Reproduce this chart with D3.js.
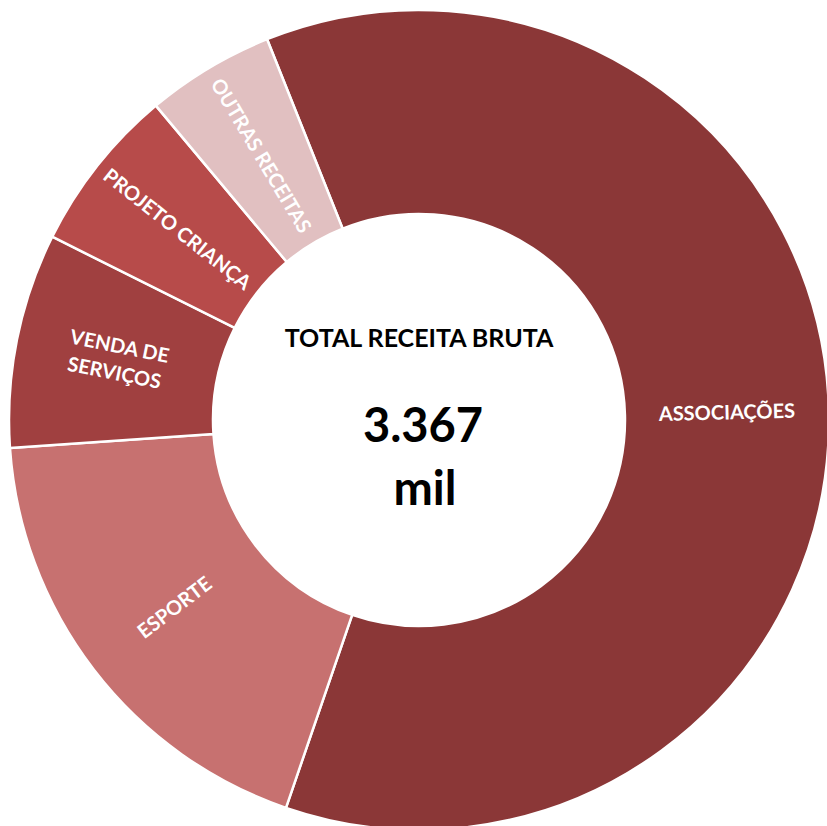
<!DOCTYPE html>
<html>
<head>
<meta charset="utf-8">
<script src="https://cdn.jsdelivr.net/npm/d3@7"></script>
<style>
  html, body { margin: 0; padding: 0; background: #fff; }
  svg { display: block; }
  text { font-family: Lato, "Open Sans", sans-serif; font-weight: bold; }
</style>
</head>
<body>
<svg id="chart" width="827" height="826"></svg>
<script>
const categories = ["ASSOCIAÇÕES", "ESPORTE", "VENDA DE SERVIÇOS", "PROJETO CRIANÇA", "OUTRAS RECEITAS"];
const labelLines = [["ASSOCIAÇÕES"], ["ESPORTE"], ["VENDA DE", "SERVIÇOS"], ["PROJETO CRIANÇA"], ["OUTRAS RECEITAS"]];
const values = [2064, 628, 285, 220, 170];
const colors = ["#8B3737", "#C77170", "#A04040", "#B74B4A", "#E1C0C1"];
const centerTitle = "TOTAL RECEITA BRUTA";
const centerValue = "3.367";
const centerUnit = "mil";

const svg = d3.select("#chart");
const cx = 419, cy = 420;
const rOuter = 410, rInner = 206;
const start = -21.75 * Math.PI / 180;

const g = svg.append("g").attr("transform", `translate(${cx},${cy})`);

const pie = d3.pie().sort(null).value(d => d.v)
  .startAngle(start).endAngle(start + 2 * Math.PI);
const data = categories.map((c, i) => ({ c, v: values[i], col: colors[i], lines: labelLines[i] }));
const arcs = pie(data);

const arc = d3.arc().innerRadius(rInner).outerRadius(rOuter);
const labelArc = d3.arc().innerRadius((rInner + rOuter) / 2).outerRadius((rInner + rOuter) / 2);

g.selectAll("path").data(arcs).join("path")
  .attr("d", arc)
  .attr("fill", d => d.data.col)
  .attr("stroke", "#fff")
  .attr("stroke-width", 2.5)
  .attr("stroke-linejoin", "round");

const labels = g.selectAll("g.lbl").data(arcs).join("g").attr("class", "lbl")
  .attr("transform", d => {
    const [x, y] = labelArc.centroid(d);
    let a = ((d.startAngle + d.endAngle) / 2) * 180 / Math.PI - 90;
    a = ((a % 360) + 360) % 360;
    if (a > 90 && a < 270) a -= 180;
    if (a >= 270) a -= 360;
    return `translate(${x},${y}) rotate(${a})`;
  });

labels.each(function(d) {
  const sel = d3.select(this);
  const n = d.data.lines.length;
  const lh = 27;
  d.data.lines.forEach((t, i) => {
    sel.append("text")
      .attr("text-anchor", "middle")
      .attr("y", (i - (n - 1) / 2) * lh + 7)
      .attr("fill", "#fff")
      .attr("font-size", 20)
      .text(t);
  });
});

svg.append("text").attr("x", cx).attr("y", 347).attr("text-anchor", "middle")
  .attr("font-size", 25).attr("fill", "#000").text(centerTitle);
svg.append("text").attr("x", cx + 4).attr("y", 442).attr("text-anchor", "middle")
  .attr("font-size", 47).attr("fill", "#000").text(centerValue);
svg.append("text").attr("x", cx + 6).attr("y", 505).attr("text-anchor", "middle")
  .attr("font-size", 47).attr("fill", "#000").text(centerUnit);
</script>
</body>
</html>
